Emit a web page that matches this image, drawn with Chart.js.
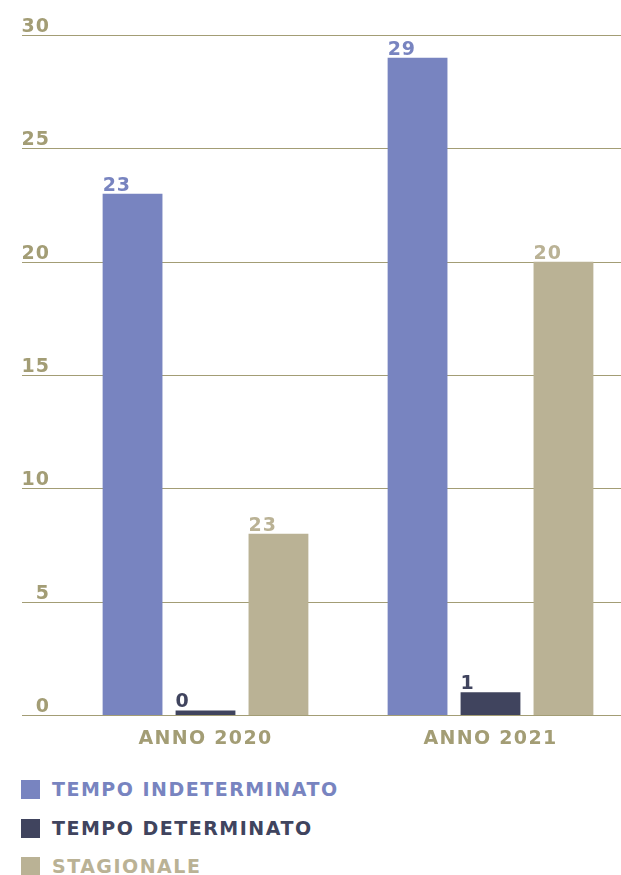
<!DOCTYPE html>
<html>
<head>
<meta charset="utf-8">
<script src="https://cdn.jsdelivr.net/npm/chart.js@4/dist/chart.umd.min.js"></script>
<style>
  html, body { margin: 0; padding: 0; background: #fff; overflow: hidden; width: 621px; height: 875px; }
  #wrap { position: relative; width: 621px; height: 875px; overflow: hidden; }
  #c { position: absolute; left: 0; top: 0; }
  .leg { position: absolute; left: 21px; font: bold 19px "DejaVu Sans", sans-serif; letter-spacing: 1.5px; white-space: nowrap; }
  .leg span.sw { display: inline-block; width: 19px; height: 19px; vertical-align: top; margin-right: 12px; }
  .leg span.tx { display: inline-block; line-height: 19px; vertical-align: top; }
</style>
</head>
<body>
<div id="wrap">
  <canvas id="c" width="660" height="760"></canvas>
  <div id="legend"></div>
</div>
<script>
const categories = ['ANNO 2020', 'ANNO 2021'];
const seriesNames = ['TEMPO INDETERMINATO', 'TEMPO DETERMINATO', 'STAGIONALE'];
const indeterminato = [23, 29];
const determinato = [0.2, 1];
const stagionale = [8, 20];
// value labels as printed on the chart
const labelsIndeterminato = ['23', '29'];
const labelsDeterminato = ['0', '1'];
const labelsStagionale = ['23', '20'];
const yTicks = [0, 5, 10, 15, 20, 25, 30];

const colors = ['#7884c0', '#40445e', '#bab295'];
const olive = '#a39d75';
const FONT = 'bold 19px "DejaVu Sans", sans-serif';

const valueLabels = [labelsIndeterminato, labelsDeterminato, labelsStagionale];

const overlay = {
  id: 'overlay',
  beforeDatasetsDraw(chart) {
    const ctx = chart.ctx;
    const y = chart.scales.y;
    ctx.save();
    ctx.strokeStyle = olive;
    ctx.lineWidth = 1.2;
    ctx.font = FONT;
    ctx.letterSpacing = '1px';
    ctx.fillStyle = olive;
    ctx.textAlign = 'right';
    ctx.textBaseline = 'alphabetic';
    yTicks.forEach(t => {
      const py = Math.round(y.getPixelForValue(t)) + 0.5;
      ctx.beginPath();
      ctx.moveTo(22, py);
      ctx.lineTo(chart.width, py);
      ctx.stroke();
      ctx.fillText(String(t), 50, py - 4);
    });
    ctx.restore();
  },
  afterDatasetsDraw(chart) {
    const ctx = chart.ctx;
    const x = chart.scales.x;
    ctx.save();
    ctx.font = FONT;
    ctx.letterSpacing = '1.3px';
    ctx.textBaseline = 'alphabetic';
    ctx.textAlign = 'center';
    ctx.fillStyle = olive;
    categories.forEach((c, i) => {
      ctx.fillText(c, x.getPixelForValue(i), chart.chartArea.bottom + 29);
    });
    ctx.letterSpacing = '1px';
    ctx.textAlign = 'left';
    chart.data.datasets.forEach((ds, di) => {
      const meta = chart.getDatasetMeta(di);
      ctx.fillStyle = colors[di];
      meta.data.forEach((bar, i) => {
        ctx.fillText(valueLabels[di][i], bar.x - bar.width / 2, bar.y - 3);
      });
    });
    ctx.restore();
  }
};

new Chart(document.getElementById('c'), {
  type: 'bar',
  data: {
    labels: categories,
    datasets: [
      { label: seriesNames[0], data: indeterminato, backgroundColor: colors[0] },
      { label: seriesNames[1], data: determinato, backgroundColor: colors[1] },
      { label: seriesNames[2], data: stagionale, backgroundColor: colors[2] }
    ]
  },
  options: {
    responsive: false,
    animation: false,
    layout: { padding: { left: 63, right: 27, top: 35, bottom: 45 } },
    datasets: { bar: { categoryPercentage: 0.768, barPercentage: 0.82 } },
    plugins: { legend: { display: false }, tooltip: { enabled: false } },
    scales: {
      x: { display: false },
      y: { display: false, min: 0, max: 30 }
    }
  },
  plugins: [overlay]
});

// legend
const legend = document.getElementById('legend');
seriesNames.forEach((name, i) => {
  const d = document.createElement('div');
  d.className = 'leg';
  d.style.top = (780 + i * 38.5) + 'px';
  d.style.color = colors[i];
  d.innerHTML = '<span class="sw" style="background:' + colors[i] + '"></span><span class="tx">' + name + '</span>';
  legend.appendChild(d);
});
</script>
</body>
</html>
